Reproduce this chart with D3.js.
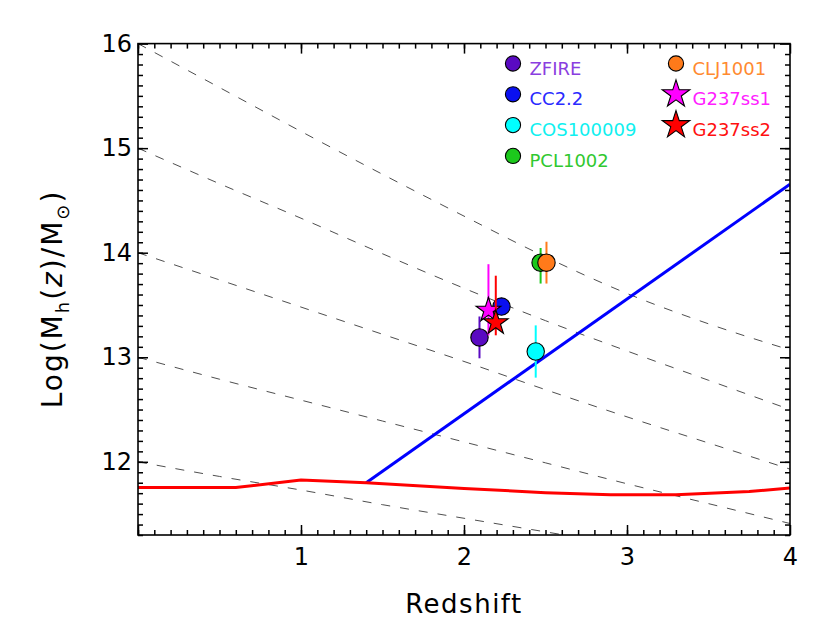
<!DOCTYPE html>
<html>
<head>
<meta charset="utf-8">
<script src="https://cdn.jsdelivr.net/npm/d3@7"></script>
<style>
body { margin: 0; background: #fff; }
text { font-family: "DejaVu Sans", sans-serif; }
</style>
</head>
<body>
<svg id="chart" width="830" height="623"></svg>
<script>
// halo growth tracks, sampled every 0.5 in z
var trackZ = [0, 0.5, 1, 1.5, 2, 2.5, 3, 3.5, 4];
var track16 = [16.00, 15.58, 15.16, 14.75, 14.35, 13.96, 13.61, 13.32, 13.07];
var track15 = [15.00, 14.66, 14.33, 13.99, 13.66, 13.35, 13.06, 12.78, 12.50];
var track14 = [14.00, 13.74, 13.48, 13.22, 12.96, 12.69, 12.43, 12.18, 11.93];
var track13 = [13.00, 12.79, 12.59, 12.39, 12.19, 11.99, 11.79, 11.60, 11.41];
var track12 = [12.00, 11.86, 11.73, 11.59, 11.46, 11.33, 11.20, 11.07, 10.94];

// red (shock heating) and blue (cold streams) lines
var redZ = [0, 0.6, 1.0, 1.4, 2.0, 2.5, 2.9, 3.3, 3.75, 4.0];
var redM = [11.755, 11.755, 11.825, 11.80, 11.745, 11.705, 11.685, 11.685, 11.715, 11.75];
var blueZ = [1.4, 4.0];
var blueM = [11.80, 14.655];

// structures
var names = ["ZFIRE", "CC2.2", "COS100009", "PCL1002", "CLJ1001", "G237ss1", "G237ss2"];
var zs = [2.095, 2.23, 2.44, 2.47, 2.506, 2.15, 2.195];
var ms = [13.19, 13.485, 13.055, 13.905, 13.905, 13.45, 13.33];
var errHi = [0.20, 0, 0.25, 0.14, 0.20, 0.44, 0.45];
var errLo = [0.20, 0, 0.25, 0.20, 0.20, 0.24, 0.12];
var fills = ["#5a0ac2", "#0a10f0", "#00ffff", "#1cc81c", "#ff7a1a", "#ff00ff", "#ff0000"];
var textCols = ["#8a3ee0", "#2a2aff", "#10f0f0", "#30c830", "#ff8a30", "#ff20ff", "#ff1010"];
var shapes = ["circle", "circle", "circle", "circle", "circle", "star", "star"];

var xTicks = [0, 1, 2, 3, 4];
var yTicks = [12, 13, 14, 15, 16];

var svg = d3.select("#chart"),
    pLeft = 138, pRight = 790, pTop = 43.6, pBottom = 535;

var x = d3.scaleLinear().domain([0, 4]).range([pLeft, pRight]);
var y = d3.scaleLinear().domain([11.3, 16]).range([pBottom, pTop]);

svg.append("clipPath").attr("id", "plotclip")
    .append("rect")
    .attr("x", pLeft).attr("y", pTop)
    .attr("width", pRight - pLeft).attr("height", pBottom - pTop);

var plot = svg.append("g").attr("clip-path", "url(#plotclip)");

var line = d3.line()
    .x(function(d) { return x(d[0]); })
    .y(function(d) { return y(d[1]); });

var tracks = [track16, track15, track14, track13, track12];
tracks.forEach(function(t) {
    plot.append("path")
        .datum(d3.zip(trackZ, t))
        .attr("fill", "none")
        .attr("stroke", "#3a3a3a")
        .attr("stroke-width", 0.9)
        .attr("stroke-dasharray", "9,10")
        .attr("d", line.curve(d3.curveMonotoneX));
});

plot.append("path")
    .datum(d3.zip(blueZ, blueM))
    .attr("fill", "none")
    .attr("stroke", "#0000ff")
    .attr("stroke-width", 3)
    .attr("d", line.curve(d3.curveLinear));

plot.append("path")
    .datum(d3.zip(redZ, redM))
    .attr("fill", "none")
    .attr("stroke", "#ff0000")
    .attr("stroke-width", 3)
    .attr("stroke-linejoin", "round")
    .attr("d", line.curve(d3.curveLinear));

function marker(g, shape, cx, cy, big) {
    if (shape == "star") {
        var r = big ? 14.5 : 13;
        return g.append("path")
            .attr("d", d3.symbol().type(d3.symbolStar).size(r * r / 0.8908)())
            .attr("transform", "translate(" + cx + "," + cy + ")");
    }
    return g.append("circle")
        .attr("cx", cx).attr("cy", cy)
        .attr("r", big ? 7.6 : 8.7);
}

// points with error bars
names.forEach(function(n, i) {
    if (errHi[i] > 0 || errLo[i] > 0) {
        plot.append("line")
            .attr("x1", x(zs[i])).attr("x2", x(zs[i]))
            .attr("y1", y(ms[i] + errHi[i])).attr("y2", y(ms[i] - errLo[i]))
            .attr("stroke", fills[i])
            .attr("stroke-width", 2);
    }
    marker(plot, shapes[i], x(zs[i]), y(ms[i]), false)
        .attr("fill", fills[i])
        .attr("stroke", "#000")
        .attr("stroke-width", 1.1);
});

// legend
var legend = svg.append("g");
names.forEach(function(n, i) {
    var col = i < 4 ? 0 : 1,
        row = i < 4 ? i : i - 4,
        lx = col == 0 ? 513 : 676,
        ly = 63.5 + row * 30.8;
    marker(legend, shapes[i], lx, ly, true)
        .attr("fill", fills[i])
        .attr("stroke", "#000")
        .attr("stroke-width", 1.1);
    legend.append("text")
        .attr("x", lx + 16.5)
        .attr("y", ly + 11)
        .attr("fill", textCols[i])
        .attr("font-size", 18)
        .text(n);
});

// axes, ticks pointing inward on all four sides
function styleAxis(g) {
    g.select(".domain").remove();
    g.selectAll(".tick line").attr("stroke", "#000").attr("stroke-width", 1.5);
    g.selectAll("text").attr("fill", "#000").attr("font-size", 24)
        .attr("font-family", "DejaVu Sans, sans-serif");
}

var minorX = d3.range(0, 40).map(function(d) { return d / 10; });
var minorY = d3.range(113, 160).map(function(d) { return d / 10; });

svg.append("g").attr("transform", "translate(0," + pBottom + ")")
    .call(d3.axisBottom(x).tickValues(minorX).tickSize(-5).tickFormat(""))
    .call(styleAxis);
svg.append("g").attr("transform", "translate(0," + pBottom + ")")
    .call(d3.axisBottom(x).tickValues(xTicks).tickSizeInner(-10).tickSizeOuter(0).tickPadding(13)
        .tickFormat(function(d) { return d == 0 ? "" : d; }))
    .call(styleAxis);
svg.append("g").attr("transform", "translate(0," + pTop + ")")
    .call(d3.axisTop(x).tickValues(minorX).tickSize(-5).tickFormat(""))
    .call(styleAxis);
svg.append("g").attr("transform", "translate(0," + pTop + ")")
    .call(d3.axisTop(x).tickValues(xTicks).tickSize(-10).tickFormat(""))
    .call(styleAxis);

svg.append("g").attr("transform", "translate(" + pLeft + ",0)")
    .call(d3.axisLeft(y).tickValues(minorY).tickSize(-5).tickFormat(""))
    .call(styleAxis);
svg.append("g").attr("transform", "translate(" + pLeft + ",0)")
    .call(d3.axisLeft(y).tickValues(yTicks).tickSizeInner(-10).tickSizeOuter(0).tickPadding(6)
        .tickFormat(d3.format("d")))
    .call(styleAxis);
svg.append("g").attr("transform", "translate(" + pRight + ",0)")
    .call(d3.axisRight(y).tickValues(minorY).tickSize(-5).tickFormat(""))
    .call(styleAxis);
svg.append("g").attr("transform", "translate(" + pRight + ",0)")
    .call(d3.axisRight(y).tickValues(yTicks).tickSize(-10).tickFormat(""))
    .call(styleAxis);

svg.append("rect")
    .attr("x", pLeft).attr("y", pTop)
    .attr("width", pRight - pLeft).attr("height", pBottom - pTop)
    .attr("fill", "none").attr("stroke", "#000").attr("stroke-width", 1.6);

// axis titles
svg.append("text")
    .attr("x", (pLeft + pRight) / 2).attr("y", 613)
    .attr("text-anchor", "middle")
    .attr("font-size", 26)
    .attr("letter-spacing", 1.5)
    .text("Redshift");

var yt = svg.append("text")
    .attr("transform", "translate(62,299) rotate(-90)")
    .attr("text-anchor", "middle")
    .attr("font-size", 28)
    .attr("letter-spacing", 2);
yt.append("tspan").text("Log(M");
yt.append("tspan").attr("font-size", 18).attr("dy", 7).text("h");
yt.append("tspan").attr("dy", -7).text("(");
yt.append("tspan").attr("font-style", "italic").text("z");
yt.append("tspan").text(")/M");
yt.append("tspan").attr("font-size", 18).attr("dy", 7).text("\u2299");
yt.append("tspan").attr("dy", -7).text(")");
</script>
</body>
</html>
